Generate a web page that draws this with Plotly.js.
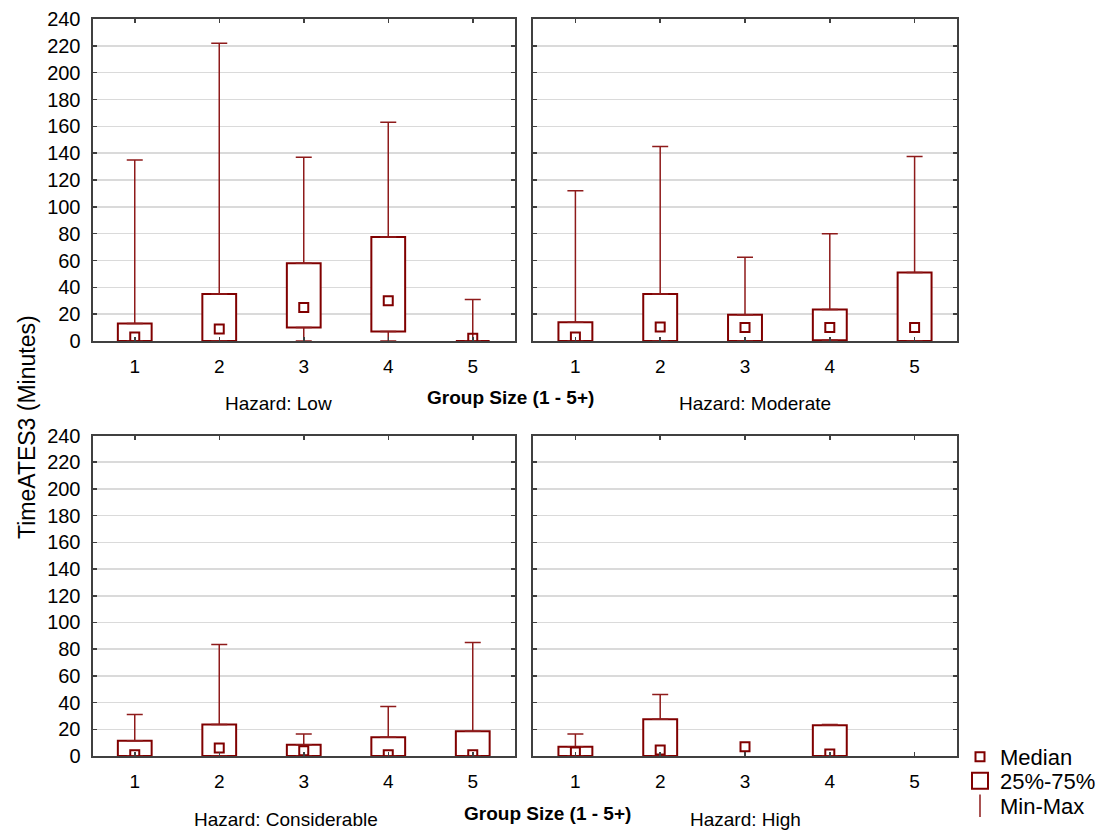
<!DOCTYPE html>
<html>
<head>
<meta charset="utf-8">
<script src="https://cdn.plot.ly/plotly-3.0.1.min.js"></script>
<style>html,body{margin:0;padding:0;background:#fff;overflow:hidden;}#chart{width:1101px;height:831px;}</style>
</head>
<body>
<div id="chart"></div>
<script>
// Categories (group size)
var groups = [1, 2, 3, 4, 5];
var groupLabels = ['1', '2', '3', '4', '5'];
var panelNames = ['Hazard: Low', 'Hazard: Moderate', 'Hazard: Considerable', 'Hazard: High'];

// Hazard: Low
var lowMin    = [0, 0, 0, 0, 0];
var lowQ1     = [0, 0, 10, 7, 0];
var lowMedian = [3, 9, 25, 30, 2];
var lowQ3     = [13, 35, 58, 77.5, 0];
var lowMax    = [135, 222, 137, 163, 31];

// Hazard: Moderate
var modMin    = [0, 0, 0, 0, 0];
var modQ1     = [0, 0, 0, 0.5, 0];
var modMedian = [3, 10.5, 10, 10, 10];
var modQ3     = [14, 35, 19.5, 23.5, 51];
var modMax    = [112, 145, 62.5, 80, 137.5];

// Hazard: Considerable
var conMin    = [0, 0, 0, 0, 0];
var conQ1     = [0, 0, 0, 0, 0];
var conMedian = [1, 6, 4, 1, 1];
var conQ3     = [11.5, 23.5, 8.5, 14, 18.5];
var conMax    = [31, 83.5, 16.5, 37, 85];

// Hazard: High (group 3: single value, only median drawn; group 5: no data)
var highMin    = [0, 0, null, 0, null];
var highQ1     = [0, 0, null, 0, null];
var highMedian = [3, 4.5, 7, 1.5, null];
var highQ3     = [7, 27.5, null, 23, null];
var highMax    = [16.5, 46, null, 23.5, null];

var yTicks = [0, 20, 40, 60, 80, 100, 120, 140, 160, 180, 200, 220, 240];

var RED = '#800000';
var WHISK = '#8e1b1b';
var FONT = 'Liberation Sans, Arial, sans-serif';
var NARROW = 'Liberation Sans Narrow, Arial Narrow, Liberation Sans, sans-serif';

var panels = [
  {min: lowMin, q1: lowQ1, med: lowMedian, q3: lowQ3, max: lowMax, xa: 'x', ya: 'y'},
  {min: modMin, q1: modQ1, med: modMedian, q3: modQ3, max: modMax, xa: 'x2', ya: 'y2'},
  {min: conMin, q1: conQ1, med: conMedian, q3: conQ3, max: conMax, xa: 'x3', ya: 'y3'},
  {min: highMin, q1: highQ1, med: highMedian, q3: highQ3, max: highMax, xa: 'x4', ya: 'y4'}
];

var traces = [];
panels.forEach(function (p) {
  var n = groups.length;
  var height = [], up = [], upZero = [], down = [], downZero = [];
  for (var i = 0; i < n; i++) {
    height.push(p.q3[i] == null ? null : p.q3[i] - p.q1[i]);
    var u = (p.max[i] == null || p.max[i] <= p.q3[i]) ? null : p.max[i] - p.q3[i];
    up.push(u); upZero.push(u == null ? null : 0);
    var d = (p.min[i] == null || p.min[i] >= p.q1[i]) ? null : p.q1[i] - p.min[i];
    down.push(d); downZero.push(d == null ? null : 0);
  }
  // 25%-75% box
  traces.push({
    type: 'bar', x: groups, y: height, base: p.q1, width: 0.4,
    xaxis: p.xa, yaxis: p.ya, showlegend: false, hoverinfo: 'skip',
    marker: {color: 'rgba(255,255,255,1)', line: {color: RED, width: 2}}
  });
  // upper whisker
  traces.push({
    type: 'scatter', mode: 'markers', x: groups, y: p.q3, xaxis: p.xa, yaxis: p.ya,
    showlegend: false, hoverinfo: 'skip',
    marker: {size: 1, color: 'rgba(0,0,0,0)'},
    error_y: {type: 'data', symmetric: false, array: up, arrayminus: upZero,
              color: WHISK, thickness: 1.5, width: 8}
  });
  // lower whisker
  traces.push({
    type: 'scatter', mode: 'markers', x: groups, y: p.q1, xaxis: p.xa, yaxis: p.ya,
    showlegend: false, hoverinfo: 'skip',
    marker: {size: 1, color: 'rgba(0,0,0,0)'},
    error_y: {type: 'data', symmetric: false, array: downZero, arrayminus: down,
              color: WHISK, thickness: 1.5, width: 8}
  });
  // median
  traces.push({
    type: 'scatter', mode: 'markers', x: groups, y: p.med, xaxis: p.xa, yaxis: p.ya,
    showlegend: false,
    marker: {symbol: 'square-open', size: 9, color: RED, line: {color: RED, width: 2}}
  });
});

// legend entries (one legend each, to place them freely)
traces.push({type: 'scatter', mode: 'markers', x: [null], y: [null], xaxis: 'x4', yaxis: 'y4',
  name: 'Median', legend: 'legend',
  marker: {symbol: 'square-open', size: 9, color: RED, line: {color: RED, width: 2}}});
traces.push({type: 'scatter', mode: 'markers', x: [null], y: [null], xaxis: 'x4', yaxis: 'y4',
  name: '25%-75%', legend: 'legend2',
  marker: {symbol: 'square-open', size: 16, color: RED, line: {color: RED, width: 2}}});
traces.push({type: 'scatter', mode: 'markers', x: [null], y: [null], xaxis: 'x4', yaxis: 'y4',
  name: 'Min-Max', legend: 'legend3',
  marker: {symbol: 'line-ns-open', size: 16, color: WHISK, line: {color: WHISK, width: 1.5}}});

var W = 1101, H = 831;
function px(a, b) { return [a / W, b / W]; }
function py(top, bottom) { return [1 - bottom / H, 1 - top / H]; }

function xAxis(dom, anchor) {
  return {
    domain: dom, anchor: anchor, range: [0.5, 5.5], tickmode: 'array',
    tickvals: groups, ticktext: groupLabels, ticks: 'inside', ticklen: 4, tickwidth: 1.5,
    tickcolor: '#404040', showline: true, linecolor: '#404040', linewidth: 2,
    mirror: 'ticks', showgrid: false, zeroline: false, fixedrange: true,
    ticklabelstandoff: 7,
    tickfont: {family: FONT, size: 19, color: '#000'}
  };
}
function yAxis(dom, anchor, labels) {
  return {
    domain: dom, anchor: anchor, range: [0, 240], tickmode: 'array', tickvals: yTicks,
    ticks: 'inside', ticklen: 4, tickwidth: 1.5, tickcolor: '#404040',
    showline: true, linecolor: '#404040', linewidth: 2, mirror: 'ticks',
    showgrid: true, gridcolor: '#dadada', gridwidth: 1.5, zeroline: false,
    showticklabels: labels, fixedrange: true, ticklabelstandoff: 6,
    tickfont: {family: FONT, size: 20, color: '#000'}
  };
}

var xL = px(92.5, 515), xR = px(533, 957);
var yT = py(19, 341), yB = py(435.5, 756);

function legendAt(cy) {
  return {x: 960 / W, y: 1 - cy / H, xanchor: 'left', yanchor: 'middle',
          font: {family: FONT, size: 22, color: '#000'}, itemsizing: 'trace',
          bgcolor: 'rgba(0,0,0,0)', itemwidth: 30, borderwidth: 0};
}

var layout = {
  width: W, height: H,
  margin: {l: 0, r: 0, t: 0, b: 0, autoexpand: false},
  paper_bgcolor: '#fff', plot_bgcolor: '#fff',
  barmode: 'overlay',
  font: {family: FONT, size: 18, color: '#000'},
  xaxis: xAxis(xL, 'y'), yaxis: yAxis(yT, 'x', true),
  xaxis2: xAxis(xR, 'y2'), yaxis2: yAxis(yT, 'x2', false),
  xaxis3: xAxis(xL, 'y3'), yaxis3: yAxis(yB, 'x3', true),
  xaxis4: xAxis(xR, 'y4'), yaxis4: yAxis(yB, 'x4', false),
  showlegend: true,
  legend: legendAt(757),
  legend2: legendAt(781),
  legend3: legendAt(806),
  annotations: [
    {text: panelNames[0], x: 278 / W, y: 1 - 403 / H, xref: 'paper', yref: 'paper', showarrow: false,
     xanchor: 'center', yanchor: 'middle', font: {family: FONT, size: 19, color: '#000'}},
    {text: panelNames[1], x: 755 / W, y: 1 - 403 / H, xref: 'paper', yref: 'paper', showarrow: false,
     xanchor: 'center', yanchor: 'middle', font: {family: FONT, size: 19, color: '#000'}},
    {text: panelNames[2], x: 286 / W, y: 1 - 819 / H, xref: 'paper', yref: 'paper', showarrow: false,
     xanchor: 'center', yanchor: 'middle', font: {family: FONT, size: 19, color: '#000'}},
    {text: panelNames[3], x: 745 / W, y: 1 - 819 / H, xref: 'paper', yref: 'paper', showarrow: false,
     xanchor: 'center', yanchor: 'middle', font: {family: FONT, size: 19, color: '#000'}},
    {text: '<b>Group Size (1 - 5+)</b>', x: 510 / W, y: 1 - 397 / H, xref: 'paper', yref: 'paper', showarrow: false,
     xanchor: 'center', yanchor: 'middle', font: {family: NARROW, size: 19, color: '#000'}},
    {text: '<b>Group Size (1 - 5+)</b>', x: 547 / W, y: 1 - 813 / H, xref: 'paper', yref: 'paper', showarrow: false,
     xanchor: 'center', yanchor: 'middle', font: {family: NARROW, size: 19, color: '#000'}},
    {text: 'TimeATES3 (Minutes)', x: 27 / W, y: 1 - 427 / H, xref: 'paper', yref: 'paper', showarrow: false,
     textangle: -90, xanchor: 'center', yanchor: 'middle', font: {family: FONT, size: 23, color: '#000'}}
  ]
};

Plotly.newPlot('chart', traces, layout, {displayModeBar: false, staticPlot: true});
</script>
</body>
</html>
